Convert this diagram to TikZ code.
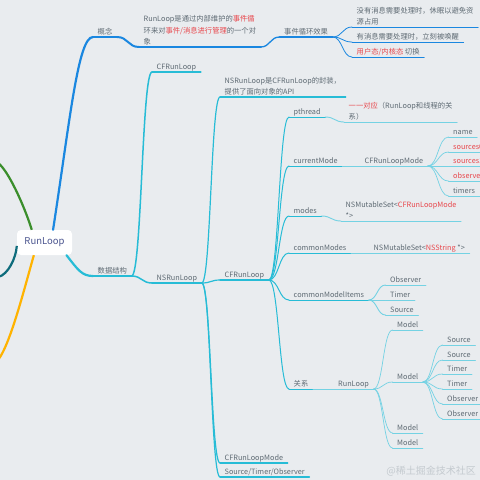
\documentclass[tikz,border=0pt]{standalone}
\usepackage{fontspec}
\setmainfont{Noto Sans CJK SC}
\usetikzlibrary{calc}
\definecolor{bg}{HTML}{E9ECEF}
\definecolor{txt}{HTML}{5E6A73}
\definecolor{hl}{HTML}{E8474C}
\definecolor{blueA}{HTML}{1A87E0}
\definecolor{cyanA}{HTML}{27BCD6}
\definecolor{cyanB}{HTML}{74D2E3}
\definecolor{greenA}{HTML}{3A8E2B}
\definecolor{tealA}{HTML}{0E6C7C}
\definecolor{orangeA}{HTML}{FFB300}
\definecolor{wm}{HTML}{C4CACF}
\newcommand\mmfont{\fontsize{7.3}{11.5}\selectfont}
\newcommand\rd[1]{\textcolor{hl}{#1}}
\begin{document}
\begin{tikzpicture}[x=1pt,y=-1pt,
  topic/.style={anchor=south west, inner xsep=4.5pt, inner ysep=1.5pt, text depth=0.8pt, align=left, text=txt, font=\mmfont},
  rootbox/.style={fill=white, rounded corners=4pt, minimum width=55pt, minimum height=25pt, inner sep=0pt, text=txt!80!blue, font=\fontsize{9.5}{11}\selectfont},
  bA/.style={draw=blueA, line width=2pt, line cap=round},
  bB/.style={draw=blueA, line width=1.3pt, line cap=round},
  bC/.style={draw=blueA, line width=0.8pt, line cap=round},
  cA/.style={draw=cyanA, line width=2pt, line cap=round},
  cB/.style={draw=cyanA, line width=1.5pt, line cap=round},
  cC/.style={draw=cyanA, line width=1.2pt, line cap=round},
  cD/.style={draw=cyanA, line width=1pt, line cap=round},
  cE/.style={draw=cyanB, line width=0.9pt, line cap=round},
  cF/.style={draw=cyanB, line width=0.7pt, line cap=round},
  mm/.style={to path={let \p1=(\tikztostart), \p2=(\tikztotarget), \n1={0.5*(\x2-\x1)} in .. controls ($(\p1)+(\n1,0)$) and ($(\p2)-(\n1,0)$) .. (\p2)}}
]
\fill[bg] (0,0) rectangle (480,480);
\useasboundingbox (0,0) rectangle (480,480);

% root
\node[rootbox] (root) at (44.5,242.5) {RunLoop};
\coordinate (gL) at (-2,163);
\coordinate (tL) at (-2,277);
\coordinate (oL) at (-2,360);

% concept branch
\node[topic] (gn) at (93,37) {概念};
\node[topic] (def) at (139,47) {RunLoop是通过内部维护的\rd{事件循}\\环来对\rd{事件/消息进行管理}的一个对\\象};
\node[topic] (eff) at (279.5,37) {事件循环效果};
\node[topic] (e1) at (352,27) {没有消息需要处理时，休眠以避免资\\源占用};
\node[topic] (e2) at (352,42) {有消息需要处理时，立刻被唤醒};
\node[topic] (e3) at (352,57) {\rd{用户态/内核态} 切换};

% data structure branch
\node[topic] (ds) at (93,276) {数据结构};
\node[topic] (cfa) at (152,72) {CFRunLoop};
\node[topic] (ns) at (152,283) {NSRunLoop};
\node[topic] (nsd) at (220,97) {NSRunLoop是CFRunLoop的封装，\\提供了面向对象的API};
\node[topic] (cfb) at (220,280) {CFRunLoop};
\node[topic] (cfm) at (220,463) {CFRunLoopMode};
\node[topic] (sto) at (220,477) {Source/Timer/Observer};

\node[topic] (pt) at (289,117) {pthread};
\node[topic] (cm) at (289,166) {currentMode};
\node[topic] (md) at (289,216) {modes};
\node[topic] (cms) at (289,253) {commonModes};
\node[topic] (cmi) at (289,300) {commonModelItems};
\node[topic] (rel) at (289,389) {关系};

\node[topic] (pta) at (344,122) {\rd{一一对应}（RunLoop和线程的关\\系）};
\node[topic] (cfrm) at (360,166) {CFRunLoopMode};
\node[topic] (mA) at (448.5,137) {name};
\node[topic] (mB) at (448.5,152) {\rd{sources0}};
\node[topic] (mC) at (448.5,166) {\rd{sources1}};
\node[topic] (mD) at (448.5,181) {\rd{observers}};
\node[topic] (mE) at (448.5,196) {timers};
\node[topic] (mdv) at (341,221) {NSMutableSet<\rd{CFRunLoopMode}\\*>};
\node[topic] (cmsv) at (369,253) {NSMutableSet<\rd{NSString} *>};
\node[topic] (iA) at (385.5,285) {Observer};
\node[topic] (iB) at (385.5,300) {Timer};
\node[topic] (iC) at (385.5,315) {Source};
\node[topic] (rl) at (333.5,389) {RunLoop};
\node[topic] (oA) at (392.5,330) {Model};
\node[topic] (oB) at (392.5,382) {Model};
\node[topic] (oC) at (392.5,433) {Model};
\node[topic] (oD) at (392.5,448) {Model};
\node[topic] (sA) at (442.5,345) {Source};
\node[topic] (sB) at (442.5,360) {Source};
\node[topic] (sC) at (442.5,374) {Timer};
\node[topic] (sD) at (442.5,389) {Timer};
\node[topic] (sE) at (442.5,404) {Observer};
\node[topic] (sF) at (442.5,419) {Observer};

\node[text=wm, anchor=east, inner sep=0pt, font=\fontsize{10}{12}\selectfont] (wmk) at (476,471) {@稀土掘金技术社区};

% underlines
\foreach \n in {gn,def} \draw[bA] (\n.south west) -- (\n.south east);
\foreach \n in {eff} \draw[bB] (\n.south west) -- (\n.south east);
\foreach \n in {e1,e2,e3} \draw[bC] (\n.south west) -- (\n.south east);
\foreach \n in {ds} \draw[cA] (\n.south west) -- (\n.south east);
\foreach \n in {cfa,ns} \draw[cB] (\n.south west) -- (\n.south east);
\foreach \n in {nsd,cfb,cfm,sto} \draw[cC] (\n.south west) -- (\n.south east);
\foreach \n in {pt,cm,md,cms,cmi,rel} \draw[cD] (\n.south west) -- (\n.south east);
\foreach \n in {pta,cfrm,mdv,cmsv,iA,iB,iC,rl} \draw[cE] (\n.south west) -- (\n.south east);
\foreach \n in {mA,mB,mC,mD,mE,oA,oB,oC,oD,sA,sB,sC,sD,sE,sF} \draw[cF] (\n.south west) -- (\n.south east);

% root branches
\draw[greenA, line width=2.2pt] (root.135) .. controls (24,205) and (8,170) .. (gL);
\draw[tealA, line width=2.2pt] (root.-173) .. controls (16,258) and (8,275) .. (tL);
\draw[orangeA, line width=2.2pt] (root.230) .. controls (24,290) and (10,345) .. (oL);
\draw[bA, line width=2.2pt] (root.56) .. controls (70,120) and (78,37) .. (gn.south west);
\draw[cA, line width=2.2pt] (root.-30) .. controls (78,270) and (82,276) .. (ds.south west);

% concept edges
\draw[bA] (gn.south east) to[mm] (def.south west);
\draw[bB] (def.south east) to[mm] (eff.south west);
\foreach \c in {e1,e2,e3} \draw[bC] (eff.south east) to[mm] (\c.south west);

% data structure edges
\foreach \c in {cfa,ns} \draw[cB] (ds.south east) to[mm] (\c.south west);
\foreach \c in {nsd,cfb,cfm,sto} \draw[cC] (ns.south east) to[mm] (\c.south west);
\foreach \c in {pt,cm,md,cms,cmi,rel} \draw[cD] (cfb.south east) to[mm] (\c.south west);
\draw[cE] (pt.south east) to[mm] (pta.south west);
\draw[cE] (cm.south east) to[mm] (cfrm.south west);
\draw[cE] (md.south east) to[mm] (mdv.south west);
\draw[cE] (cms.south east) to[mm] (cmsv.south west);
\draw[cE] (rel.south east) to[mm] (rl.south west);
\foreach \c in {mA,mB,mC,mD,mE} \draw[cF] (cfrm.south east) to[mm] (\c.south west);
\foreach \c in {iA,iB,iC} \draw[cE] (cmi.south east) to[mm] (\c.south west);
\foreach \c in {oA,oB,oC,oD} \draw[cF] (rl.south east) to[mm] (\c.south west);
\foreach \c in {sA,sB,sC,sD,sE,sF} \draw[cF] (oB.south east) to[mm] (\c.south west);
\end{tikzpicture}
\end{document}
